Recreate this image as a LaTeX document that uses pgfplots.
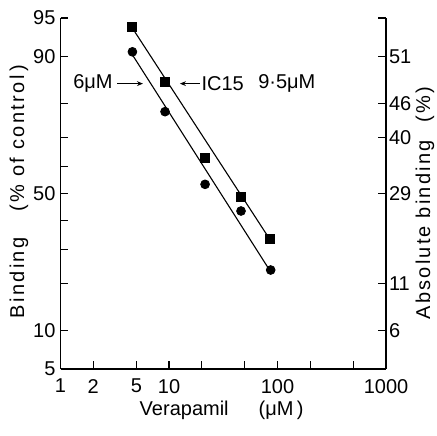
\documentclass[border=0pt]{standalone}
\usepackage{pgfplots}
\pgfplotsset{compat=1.18}
\usepackage{fontspec}
\setmainfont{Liberation Sans}
\usetikzlibrary{arrows.meta}

\begin{document}
\begin{tikzpicture}[font=\fontsize{10}{12}\selectfont]
% binding on a probit scale: y = z(fraction)
\begin{axis}[name=ax,
  scale only axis, width=162.75pt, height=175.5pt,
  xmode=log, xmin=1, xmax=1000,
  ymin=-1.6449, ymax=1.6449,
  axis line style={line width=0.7pt},
  tick align=inside, major tick length=4pt,
  tick style={line width=0.6pt, black},
  xminorticks=false, yminorticks=false,
  clip=false,
  axis x line*=bottom, axis y line*=left,
  xtick={1,2,5,10,20,50,100,200,500,1000},
  xticklabels={1,2,5,10,,,100,,,1000},
  xticklabel style={yshift=-1.5pt},
  ytick={-1.6449,-1.2816,-0.8416,-0.5244,-0.2533,0,0.2533,0.5244,0.8416,1.2816,1.6449},
  yticklabels={5,10,,,,50,,,,90,95},
  yticklabel style={xshift=1pt},
]
% fitted lines
\addplot[black, line width=0.55pt] coordinates {(4.6,1.55) (85,-0.43)};
\addplot[black, line width=0.55pt] coordinates {(4.6,1.30) (86,-0.73)};
% squares
\addplot[only marks, mark=square*, mark size=2.2pt, black] coordinates {
  (4.56,1.563) (9.19,1.048) (21.5,0.336) (46.1,-0.030) (85.3,-0.426)};
% circles
\addplot[only marks, mark=*, mark size=2.2pt, black] coordinates {
  (4.6,1.328) (9.19,0.767) (21.5,0.086) (46.1,-0.164) (86.5,-0.717)};

\draw[-{Stealth[length=3pt,width=2.4pt]}, line width=0.5pt] (axis cs:3.32,1.03) -- (axis cs:5.76,1.03);
\node[anchor=east, inner sep=0pt] at (axis cs:3.05,1.03) {6μM};
\draw[-{Stealth[length=3pt,width=2.4pt]}, line width=0.5pt] (axis cs:19.3,1.03) -- (axis cs:12.6,1.03);
\node[anchor=west, inner sep=0pt] at (axis cs:19.8,1.03) {IC15};
\node[anchor=west, inner sep=0pt] at (axis cs:66,1.03) {9·5μM};

\node[rotate=90, inner sep=0pt, font=\fontsize{10}{12}\selectfont\addfontfeature{LetterSpace=12}]
  at ([xshift=-20.75pt]rel axis cs:0,0.505) {Binding\hspace{13pt}(\% of control\,)};
\node[inner sep=0pt] at ([yshift=-20.5pt]rel axis cs:0.495,0) {Verapamil\hspace{15pt}(μM\,)};
\node[rotate=90, inner sep=0pt, font=\fontsize{10}{12}\selectfont\addfontfeature{LetterSpace=11}]
  at ([xshift=19.5pt]rel axis cs:1,0.473) {Absolute binding\hspace{9pt}(\%)};
\end{axis}

\begin{axis}[
  scale only axis, width=162.75pt, height=175.5pt,
  xmode=log, xmin=1, xmax=1000,
  ymin=-1.6449, ymax=1.6449,
  axis line style={line width=0.7pt},
  tick align=inside, major tick length=4pt,
  tick style={line width=0.6pt, black},
  yminorticks=false,
  axis x line=none, axis y line*=right,
  ytick={-1.2816,-0.8416,0,0.5244,0.8416,1.2816,1.6449},
  yticklabels={6,11,29,40,46,51,{}},
  yticklabel style={xshift=-2pt},
]
\end{axis}

\path ([shift={(-30.25pt,-33pt)}]ax.south west) rectangle ++(218.5pt,217.5pt);
\end{tikzpicture}
\end{document}
